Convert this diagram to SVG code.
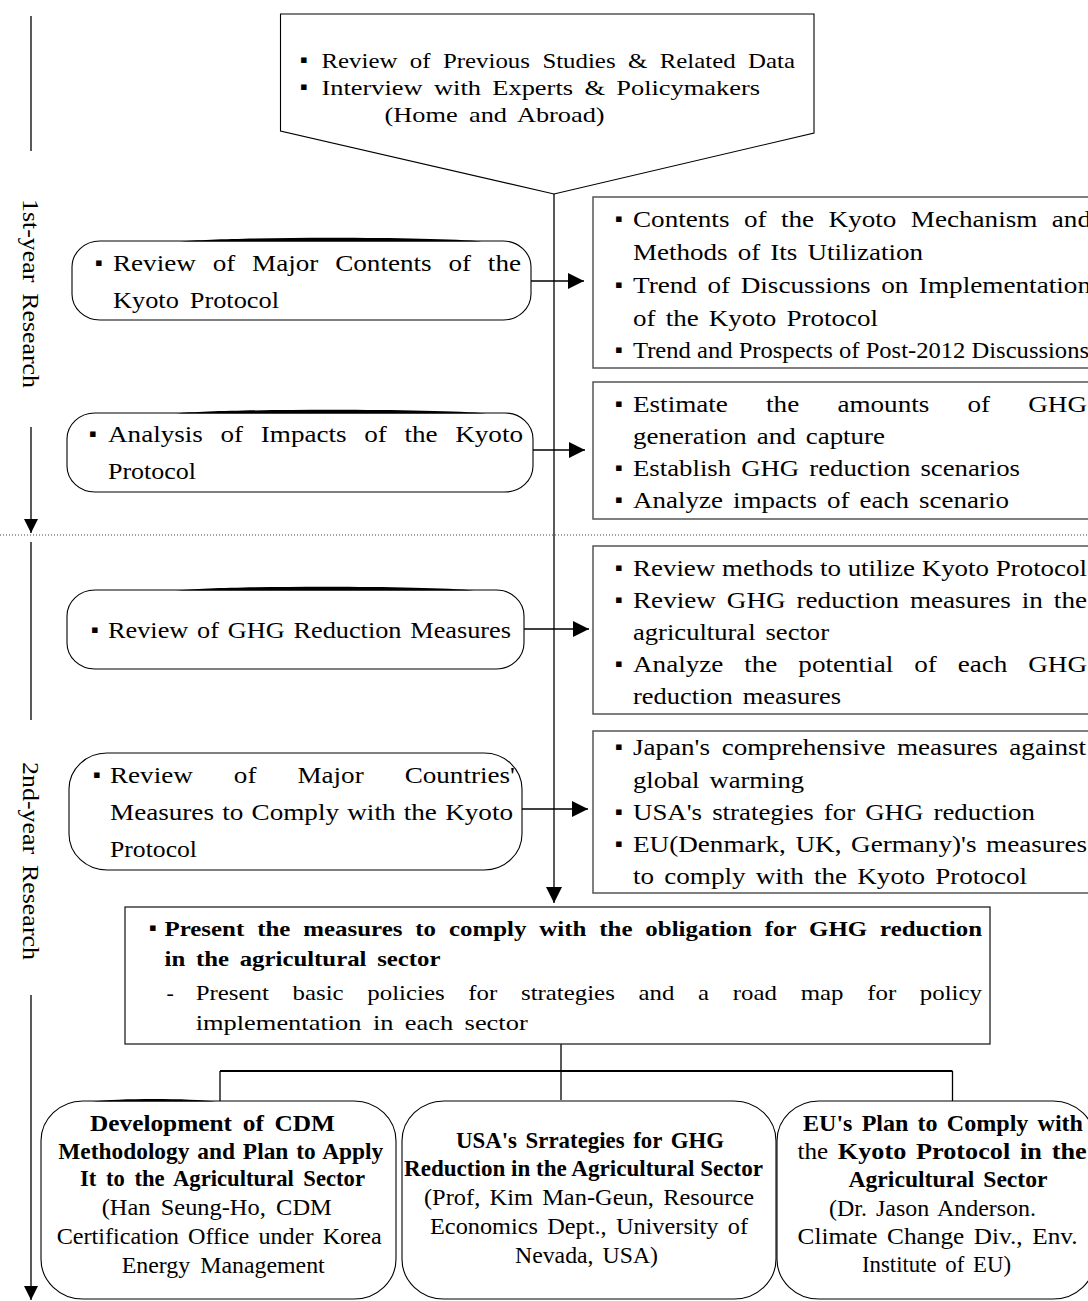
<svg xmlns="http://www.w3.org/2000/svg" width="1088" height="1301" viewBox="0 0 1088 1301">
<defs>
<style>
.t{font-family:"Liberation Serif","Times New Roman",serif;font-size:24px;fill:#000}
.s22{font-size:22px}
.s23{font-size:23px}
.bd{font-weight:bold}
.bl{font-family:"Liberation Serif","DejaVu Sans",serif;font-size:22px;fill:#000}
.box{fill:#fff;stroke:#000;stroke-width:1.1}
.rbox{fill:#fff;stroke:#555;stroke-width:1.5}
.mbox{fill:#fff;stroke:#222;stroke-width:1.3}
.rnd{fill:#fff;stroke:#000;stroke-width:1.1}
.bar{fill:#000}
.ln{fill:none;stroke:#000;stroke-width:1.3}
.dot{fill:none;stroke:#444;stroke-width:1;stroke-dasharray:1 2}
</style>
<marker id="ah" markerUnits="userSpaceOnUse" markerWidth="16" markerHeight="16" viewBox="0 0 16 16" refX="16" refY="8" orient="auto"><path d="M0,0 L16,8 L0,16 z" fill="#000"/></marker>
<marker id="ah2" markerUnits="userSpaceOnUse" markerWidth="14" markerHeight="14" viewBox="0 0 14 14" refX="14" refY="7" orient="auto"><path d="M0,0 L14,7 L0,14 z" fill="#000"/></marker>
</defs>
<rect x="0" y="0" width="1088" height="1301" fill="#fff"/>

<g id="timeline">
<path class="ln" d="M31 16 V151"/>
<text class="t" transform="translate(22.5,199) rotate(90)" textLength="189" lengthAdjust="spacingAndGlyphs" style="word-spacing:4px">1st-year Research</text>
<path class="ln" d="M31 427 V533" marker-end="url(#ah2)"/>
<path class="dot" d="M0 535 H1088"/>
<path class="ln" d="M31 542 V720"/>
<text class="t" transform="translate(22.5,762) rotate(90)" textLength="198" lengthAdjust="spacingAndGlyphs" style="word-spacing:4px">2nd-year Research</text>
<path class="ln" d="M31 995 V1300" marker-end="url(#ah2)"/>
</g>

<g id="connectors">
<path class="ln" d="M554 194 V903" marker-end="url(#ah)"/>
<path class="ln" d="M531 281 H584" marker-end="url(#ah)"/>
<path class="ln" d="M533 450 H585" marker-end="url(#ah)"/>
<path class="ln" d="M524 629 H589" marker-end="url(#ah)"/>
<path class="ln" d="M522 809 H588" marker-end="url(#ah)"/>
<path class="ln" d="M561 1044 V1100"/>
<path class="ln" d="M220 1071 H952.5" style="stroke-width:2"/>
<path class="ln" d="M220 1071 V1101"/>
<path class="ln" d="M952.5 1071 V1101"/>
</g>

<g id="node-sources">
<polygon class="box" points="280.5,14 814,14 814,133 554,194 280.5,131"/>
<text class="bl" x="300" y="67">▪</text>
<text class="t s22" x="321.5" y="68" textLength="473.5" lengthAdjust="spacingAndGlyphs" style="word-spacing:5.5px">Review of Previous Studies &amp; Related Data</text>
<text class="bl" x="300" y="94">▪</text>
<text class="t s22" x="321.5" y="95" textLength="438.5" lengthAdjust="spacingAndGlyphs" style="word-spacing:4px">Interview with Experts &amp; Policymakers</text>
<text class="t s22" x="384.6" y="121.5" textLength="220" lengthAdjust="spacingAndGlyphs" style="word-spacing:4px">(Home and Abroad)</text>
</g>

<g id="node-kyoto-contents">
<rect class="rnd" x="72" y="241" width="459" height="79" rx="28" ry="26"/>
<path class="bar" d="M180 241.5 C230 236.5 432 236.5 482 241.5 Z"/>
<text class="bl" x="95" y="270">▪</text>
<text class="t" x="113" y="271" textLength="408" lengthAdjust="spacingAndGlyphs" style="word-spacing:8.9px">Review of Major Contents of the</text>
<text class="t" x="113" y="308" textLength="166" lengthAdjust="spacingAndGlyphs" style="word-spacing:4px">Kyoto Protocol</text>
</g>

<g id="node-kyoto-mechanism">
<rect class="rbox" x="593" y="197" width="510" height="171"/>
<text class="bl" x="615" y="226">▪</text>
<text class="t" x="633" y="227" textLength="458" lengthAdjust="spacingAndGlyphs" style="word-spacing:6.8px">Contents of the Kyoto Mechanism and</text>
<text class="t" x="633" y="259.5" textLength="290" lengthAdjust="spacingAndGlyphs" style="word-spacing:3px">Methods of Its Utilization</text>
<text class="bl" x="615" y="292">▪</text>
<text class="t" x="633" y="293" textLength="458" lengthAdjust="spacingAndGlyphs" style="word-spacing:3.3px">Trend of Discussions on Implementation</text>
<text class="t" x="633" y="325.5" textLength="245" lengthAdjust="spacingAndGlyphs" style="word-spacing:3px">of the Kyoto Protocol</text>
<text class="bl" x="615" y="357">▪</text>
<text class="t" x="633" y="358" textLength="456" lengthAdjust="spacingAndGlyphs">Trend and Prospects of Post-2012 Discussions</text>
</g>

<g id="node-impacts">
<rect class="rnd" x="67" y="413" width="466" height="79" rx="28" ry="26"/>
<path class="bar" d="M176 413.5 C226 408.5 436 408.5 486 413.5 Z"/>
<text class="bl" x="89" y="441">▪</text>
<text class="t" x="108" y="442" textLength="415" lengthAdjust="spacingAndGlyphs" style="word-spacing:9.6px">Analysis of Impacts of the Kyoto</text>
<text class="t" x="108" y="479" textLength="88" lengthAdjust="spacingAndGlyphs">Protocol</text>
</g>

<g id="node-ghg-estimates">
<rect class="rbox" x="593" y="382" width="510" height="137"/>
<text class="bl" x="615" y="411">▪</text>
<text class="t" x="633" y="412" textLength="454" lengthAdjust="spacingAndGlyphs" style="word-spacing:27.8px">Estimate the amounts of GHG</text>
<text class="t" x="633" y="444" textLength="252" lengthAdjust="spacingAndGlyphs" style="word-spacing:3px">generation and capture</text>
<text class="bl" x="615" y="475">▪</text>
<text class="t" x="633" y="476" textLength="387" lengthAdjust="spacingAndGlyphs" style="word-spacing:3px">Establish GHG reduction scenarios</text>
<text class="bl" x="615" y="507">▪</text>
<text class="t" x="633" y="508" textLength="376" lengthAdjust="spacingAndGlyphs" style="word-spacing:3px">Analyze impacts of each scenario</text>
</g>

<g id="node-reduction-measures">
<rect class="rnd" x="67" y="590" width="457" height="79" rx="28" ry="26"/>
<path class="bar" d="M176 590.5 C226 585.5 424 585.5 474 590.5 Z"/>
<text class="bl" x="91" y="637">▪</text>
<text class="t" x="108" y="638" textLength="403" lengthAdjust="spacingAndGlyphs" style="word-spacing:2px">Review of GHG Reduction Measures</text>
</g>

<g id="node-utilize-methods">
<rect class="rbox" x="593" y="546" width="510" height="168"/>
<text class="bl" x="615" y="575">▪</text>
<text class="t" x="633" y="576" textLength="454" lengthAdjust="spacingAndGlyphs">Review methods to utilize Kyoto Protocol</text>
<text class="bl" x="615" y="607">▪</text>
<text class="t" x="633" y="608" textLength="454" lengthAdjust="spacingAndGlyphs" style="word-spacing:3.7px">Review GHG reduction measures in the</text>
<text class="t" x="633" y="640" textLength="196" lengthAdjust="spacingAndGlyphs" style="word-spacing:3px">agricultural sector</text>
<text class="bl" x="615" y="671">▪</text>
<text class="t" x="633" y="672" textLength="454" lengthAdjust="spacingAndGlyphs" style="word-spacing:12.5px">Analyze the potential of each GHG</text>
<text class="t" x="633" y="704" textLength="208" lengthAdjust="spacingAndGlyphs" style="word-spacing:3px">reduction measures</text>
</g>

<g id="node-countries">
<rect class="rnd" x="69" y="753" width="453" height="117" rx="38" ry="36"/>
<text class="bl" x="93" y="782">▪</text>
<text class="t" x="110" y="783" textLength="405" lengthAdjust="spacingAndGlyphs" style="word-spacing:30.3px">Review of Major Countries'</text>
<text class="t" x="110" y="820" textLength="403" lengthAdjust="spacingAndGlyphs" style="word-spacing:1.3px">Measures to Comply with the Kyoto</text>
<text class="t" x="110" y="857" textLength="87" lengthAdjust="spacingAndGlyphs">Protocol</text>
</g>

<g id="node-country-measures">
<rect class="rbox" x="593" y="731" width="510" height="162"/>
<text class="bl" x="615" y="754">▪</text>
<text class="t" x="633" y="755" textLength="453" lengthAdjust="spacingAndGlyphs" style="word-spacing:4.3px">Japan's comprehensive measures against</text>
<text class="t" x="633" y="788" textLength="171" lengthAdjust="spacingAndGlyphs" style="word-spacing:3px">global warming</text>
<text class="bl" x="615" y="819">▪</text>
<text class="t" x="633" y="820" textLength="402" lengthAdjust="spacingAndGlyphs" style="word-spacing:3px">USA's strategies for GHG reduction</text>
<text class="bl" x="615" y="851">▪</text>
<text class="t" x="633" y="852" textLength="454" lengthAdjust="spacingAndGlyphs" style="word-spacing:2.5px">EU(Denmark, UK, Germany)'s measures</text>
<text class="t" x="633" y="884" textLength="394" lengthAdjust="spacingAndGlyphs" style="word-spacing:3px">to comply with the Kyoto Protocol</text>
</g>

<g id="node-present-measures">
<rect class="mbox" x="125" y="907" width="865" height="137"/>
<text class="bl bd" x="149" y="935">▪</text>
<text class="t s22 bd" x="164.5" y="936" textLength="817.5" lengthAdjust="spacingAndGlyphs" style="word-spacing:5.9px">Present the measures to comply with the obligation for GHG reduction</text>
<text class="t s22 bd" x="164.5" y="966" textLength="276" lengthAdjust="spacingAndGlyphs" style="word-spacing:4px">in the agricultural sector</text>
<text class="t s22" x="166.5" y="1000">-</text>
<text class="t s22" x="195.7" y="1000" textLength="786.3" lengthAdjust="spacingAndGlyphs" style="word-spacing:15.5px">Present basic policies for strategies and a road map for policy</text>
<text class="t s22" x="195.7" y="1030" textLength="332" lengthAdjust="spacingAndGlyphs" style="word-spacing:4px">implementation in each sector</text>
</g>

<g id="node-cdm">
<rect class="rnd" x="41" y="1101" width="355" height="198" rx="42" ry="40"/>
<path class="bar" d="M92 1101.5 C118 1098 190 1098 216 1101.5 Z"/>
<text class="t s23 bd" x="90" y="1131" textLength="245" lengthAdjust="spacingAndGlyphs" style="word-spacing:4px">Development of CDM</text>
<text class="t s23 bd" x="58.3" y="1159" textLength="325" lengthAdjust="spacingAndGlyphs" style="word-spacing:2px">Methodology and Plan to Apply</text>
<text class="t s23 bd" x="80" y="1186" textLength="285" lengthAdjust="spacingAndGlyphs" style="word-spacing:4px">It to the Agricultural Sector</text>
<text class="t s23" x="101.7" y="1215" textLength="230" lengthAdjust="spacingAndGlyphs" style="word-spacing:4px">(Han Seung-Ho, CDM</text>
<text class="t s23" x="56.7" y="1244" textLength="325" lengthAdjust="spacingAndGlyphs" style="word-spacing:3px">Certification Office under Korea</text>
<text class="t s23" x="121.7" y="1273" textLength="203" lengthAdjust="spacingAndGlyphs" style="word-spacing:4px">Energy Management</text>
</g>

<g id="node-usa">
<rect class="rnd" x="402" y="1101" width="374" height="198" rx="42" ry="40"/>
<text class="t s23 bd" x="456" y="1148" textLength="268" lengthAdjust="spacingAndGlyphs" style="word-spacing:3px">USA's Srrategies for GHG</text>
<text class="t s23 bd" x="404" y="1176" textLength="359" lengthAdjust="spacingAndGlyphs">Reduction in the Agricultural Sector</text>
<text class="t s23" x="424" y="1205" textLength="330" lengthAdjust="spacingAndGlyphs" style="word-spacing:3px">(Prof, Kim Man-Geun, Resource</text>
<text class="t s23" x="430" y="1234" textLength="318" lengthAdjust="spacingAndGlyphs" style="word-spacing:3px">Economics Dept., University of</text>
<text class="t s23" x="515" y="1263" textLength="143" lengthAdjust="spacingAndGlyphs" style="word-spacing:3px">Nevada, USA)</text>
</g>

<g id="node-eu">
<rect class="rnd" x="777" y="1101" width="318" height="198" rx="42" ry="40"/>
<text class="t s23 bd" x="803" y="1131" textLength="280" lengthAdjust="spacingAndGlyphs" style="word-spacing:3px">EU's Plan to Comply with</text>
<text class="t s23" x="797.6" y="1159" textLength="289" lengthAdjust="spacingAndGlyphs" style="word-spacing:3px">the <tspan class="bd" style="font-size:24px">Kyoto Protocol in the</tspan></text>
<text class="t bd" x="848.5" y="1187" textLength="199" lengthAdjust="spacingAndGlyphs" style="word-spacing:3px">Agricultural Sector</text>
<text class="t s23" x="829" y="1216" textLength="207" lengthAdjust="spacingAndGlyphs" style="word-spacing:3px">(Dr. Jason Anderson.</text>
<text class="t s23" x="797.6" y="1244" textLength="280" lengthAdjust="spacingAndGlyphs" style="word-spacing:3px">Climate Change Div., Env.</text>
<text class="t s23" x="862" y="1272" textLength="149" lengthAdjust="spacingAndGlyphs" style="word-spacing:3px">Institute of EU)</text>
</g>
</svg>
